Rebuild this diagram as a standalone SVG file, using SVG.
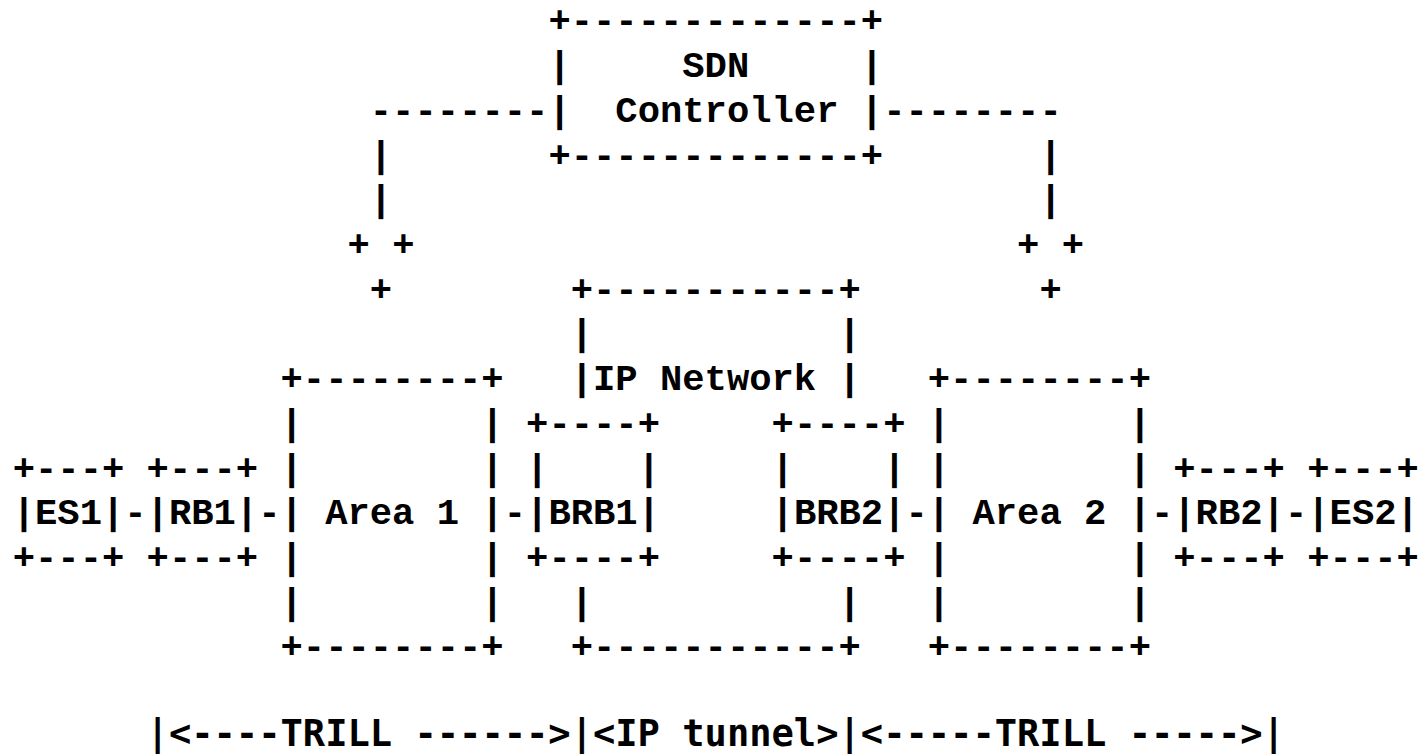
<svg xmlns="http://www.w3.org/2000/svg" width="1426" height="754" viewBox="0 0 1426 754" xml:space="preserve">
<style>
text{font-family:"Liberation Mono","DejaVu Sans Mono",monospace;font-weight:bold;font-size:37.2px;fill:#000;white-space:pre}
.lg{font-family:"DejaVu Sans Mono","Liberation Mono",monospace;font-size:37.07px}
</style>
<rect width="1426" height="754" fill="#fff"/>
<g id="sdn-controller">
<text x="548.4" y="32.3">+-------------+</text>
<text x="548.4" y="77">|     SDN     |</text>
<text x="548.4" y="121.7">|  Controller |</text>
<text x="548.4" y="166.5">+-------------+</text>
</g>
<g id="connectors">
<text x="369.8" y="121.7">--------</text>
<text x="883.2" y="121.7">--------</text>
<text x="369.8" y="166.5">|</text>
<text x="1039.4" y="166.5">|</text>
<text x="369.8" y="211.2">|</text>
<text x="1039.4" y="211.2">|</text>
<text x="347.5" y="255.9">+ +</text>
<text x="1017.1" y="255.9">+ +</text>
<text x="369.8" y="300.6">+</text>
<text x="1039.4" y="300.6">+</text>
<text x="124.3" y="524.2">-</text>
<text x="258.2" y="524.2">-</text>
<text x="503.7" y="524.2">-</text>
<text x="905.5" y="524.2">-</text>
<text x="1151" y="524.2">-</text>
<text x="1284.9" y="524.2">-</text>
</g>
<g id="ip-network">
<text x="570.7" y="300.6">+-----------+</text>
<text x="570.7" y="345.3">|           |</text>
<text x="570.7" y="390.1">|IP Network |</text>
<text x="570.7" y="613.7">|           |</text>
<text x="570.7" y="658.4">+-----------+</text>
</g>
<g id="area-1">
<text x="280.5" y="390.1">+--------+</text>
<text x="280.5" y="434.8">|        |</text>
<text x="280.5" y="479.5">|        |</text>
<text x="280.5" y="524.2">| Area 1 |</text>
<text x="280.5" y="568.9">|        |</text>
<text x="280.5" y="613.7">|        |</text>
<text x="280.5" y="658.4">+--------+</text>
</g>
<g id="area-2">
<text x="927.8" y="390.1">+--------+</text>
<text x="927.8" y="434.8">|        |</text>
<text x="927.8" y="479.5">|        |</text>
<text x="927.8" y="524.2">| Area 2 |</text>
<text x="927.8" y="568.9">|        |</text>
<text x="927.8" y="613.7">|        |</text>
<text x="927.8" y="658.4">+--------+</text>
</g>
<g id="brb1">
<text x="526.1" y="434.8">+----+</text>
<text x="526.1" y="479.5">|    |</text>
<text x="526.1" y="524.2">|BRB1|</text>
<text x="526.1" y="568.9">+----+</text>
</g>
<g id="brb2">
<text x="771.6" y="434.8">+----+</text>
<text x="771.6" y="479.5">|    |</text>
<text x="771.6" y="524.2">|BRB2|</text>
<text x="771.6" y="568.9">+----+</text>
</g>
<g id="es1">
<text x="12.7" y="479.5">+---+</text>
<text x="12.7" y="524.2">|ES1|</text>
<text x="12.7" y="568.9">+---+</text>
</g>
<g id="rb1">
<text x="146.6" y="479.5">+---+</text>
<text x="146.6" y="524.2">|RB1|</text>
<text x="146.6" y="568.9">+---+</text>
</g>
<g id="rb2">
<text x="1173.3" y="479.5">+---+</text>
<text x="1173.3" y="524.2">|RB2|</text>
<text x="1173.3" y="568.9">+---+</text>
</g>
<g id="es2">
<text x="1307.3" y="479.5">+---+</text>
<text x="1307.3" y="524.2">|ES2|</text>
<text x="1307.3" y="568.9">+---+</text>
</g>
<g id="legend">
<text class="lg" x="146.6" y="746" textLength="1138.3" lengthAdjust="spacingAndGlyphs">|&lt;----TRILL ------&gt;|&lt;IP tunnel&gt;|&lt;-----TRILL -----&gt;|</text>
</g>
</svg>
